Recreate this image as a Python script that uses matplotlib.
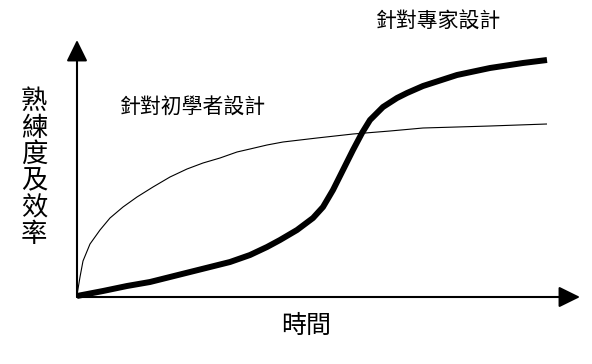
import matplotlib
matplotlib.use("Agg")
import matplotlib.pyplot as plt

plt.rcParams["font.family"] = ["Noto Sans CJK TC", "DejaVu Sans"]

# time vs. proficiency (origin = axis corner)
beginner_t = [0, 0.5, 3, 6, 13, 23, 33, 46, 60, 76, 93, 110, 126, 143, 160, 173,
              190, 206, 240, 276, 313, 346, 380, 413, 470]
beginner_y = [0, 5, 20, 36, 53, 67, 79, 90, 100, 110, 120, 128, 134, 139, 145, 148,
              152, 155, 159, 163, 166, 169, 170, 171, 173]

expert_t = [0, 26, 50, 73, 93, 113, 133, 153, 173, 190, 203, 220, 236, 246, 256,
            266, 276, 285, 293, 306, 320, 330, 346, 380, 413, 446, 470]
expert_y = [1, 6, 11, 15, 20, 25, 30, 35, 42, 50, 57, 67, 79, 90, 107,
            127, 147, 164, 177, 190, 199, 204, 211, 222, 229, 234, 237]

label_beginner = "針對初學者設計"
label_expert = "針對專家設計"
xlabel = "時間"
ylabel = "熟練度及效率"

fig = plt.figure(figsize=(5.92, 3.64), dpi=100)
ax = fig.add_axes([0, 0, 1, 1])
ax.set_xlim(-77, 515)
ax.set_ylim(-67, 297)
ax.axis("off")

# axes with arrow heads
arrow = dict(arrowstyle="-|>,head_length=0.65,head_width=0.32",
             mutation_scale=20, lw=1.5, color="black", shrinkA=0, shrinkB=0)
ax.annotate("", xy=(503, 0), xytext=(0, 0), arrowprops=arrow)
ax.annotate("", xy=(0, 257), xytext=(0, 0), arrowprops=arrow)

ax.plot(beginner_t, beginner_y, color="black", lw=0.8, solid_capstyle="butt")
ax.plot(expert_t, expert_y, color="black", lw=4.3, solid_capstyle="butt",
        solid_joinstyle="round")

ax.text(116, 189, label_beginner, fontsize=15, ha="center", va="center")
ax.text(361, 275, label_expert, fontsize=15, ha="center", va="center")
ax.text(229, -29, xlabel, fontsize=18, ha="center", va="center")
ax.text(-43, 129, "\n".join(ylabel), fontsize=19, ha="center", va="center",
        linespacing=0.98)

fig.savefig("out.png", dpi=100)
